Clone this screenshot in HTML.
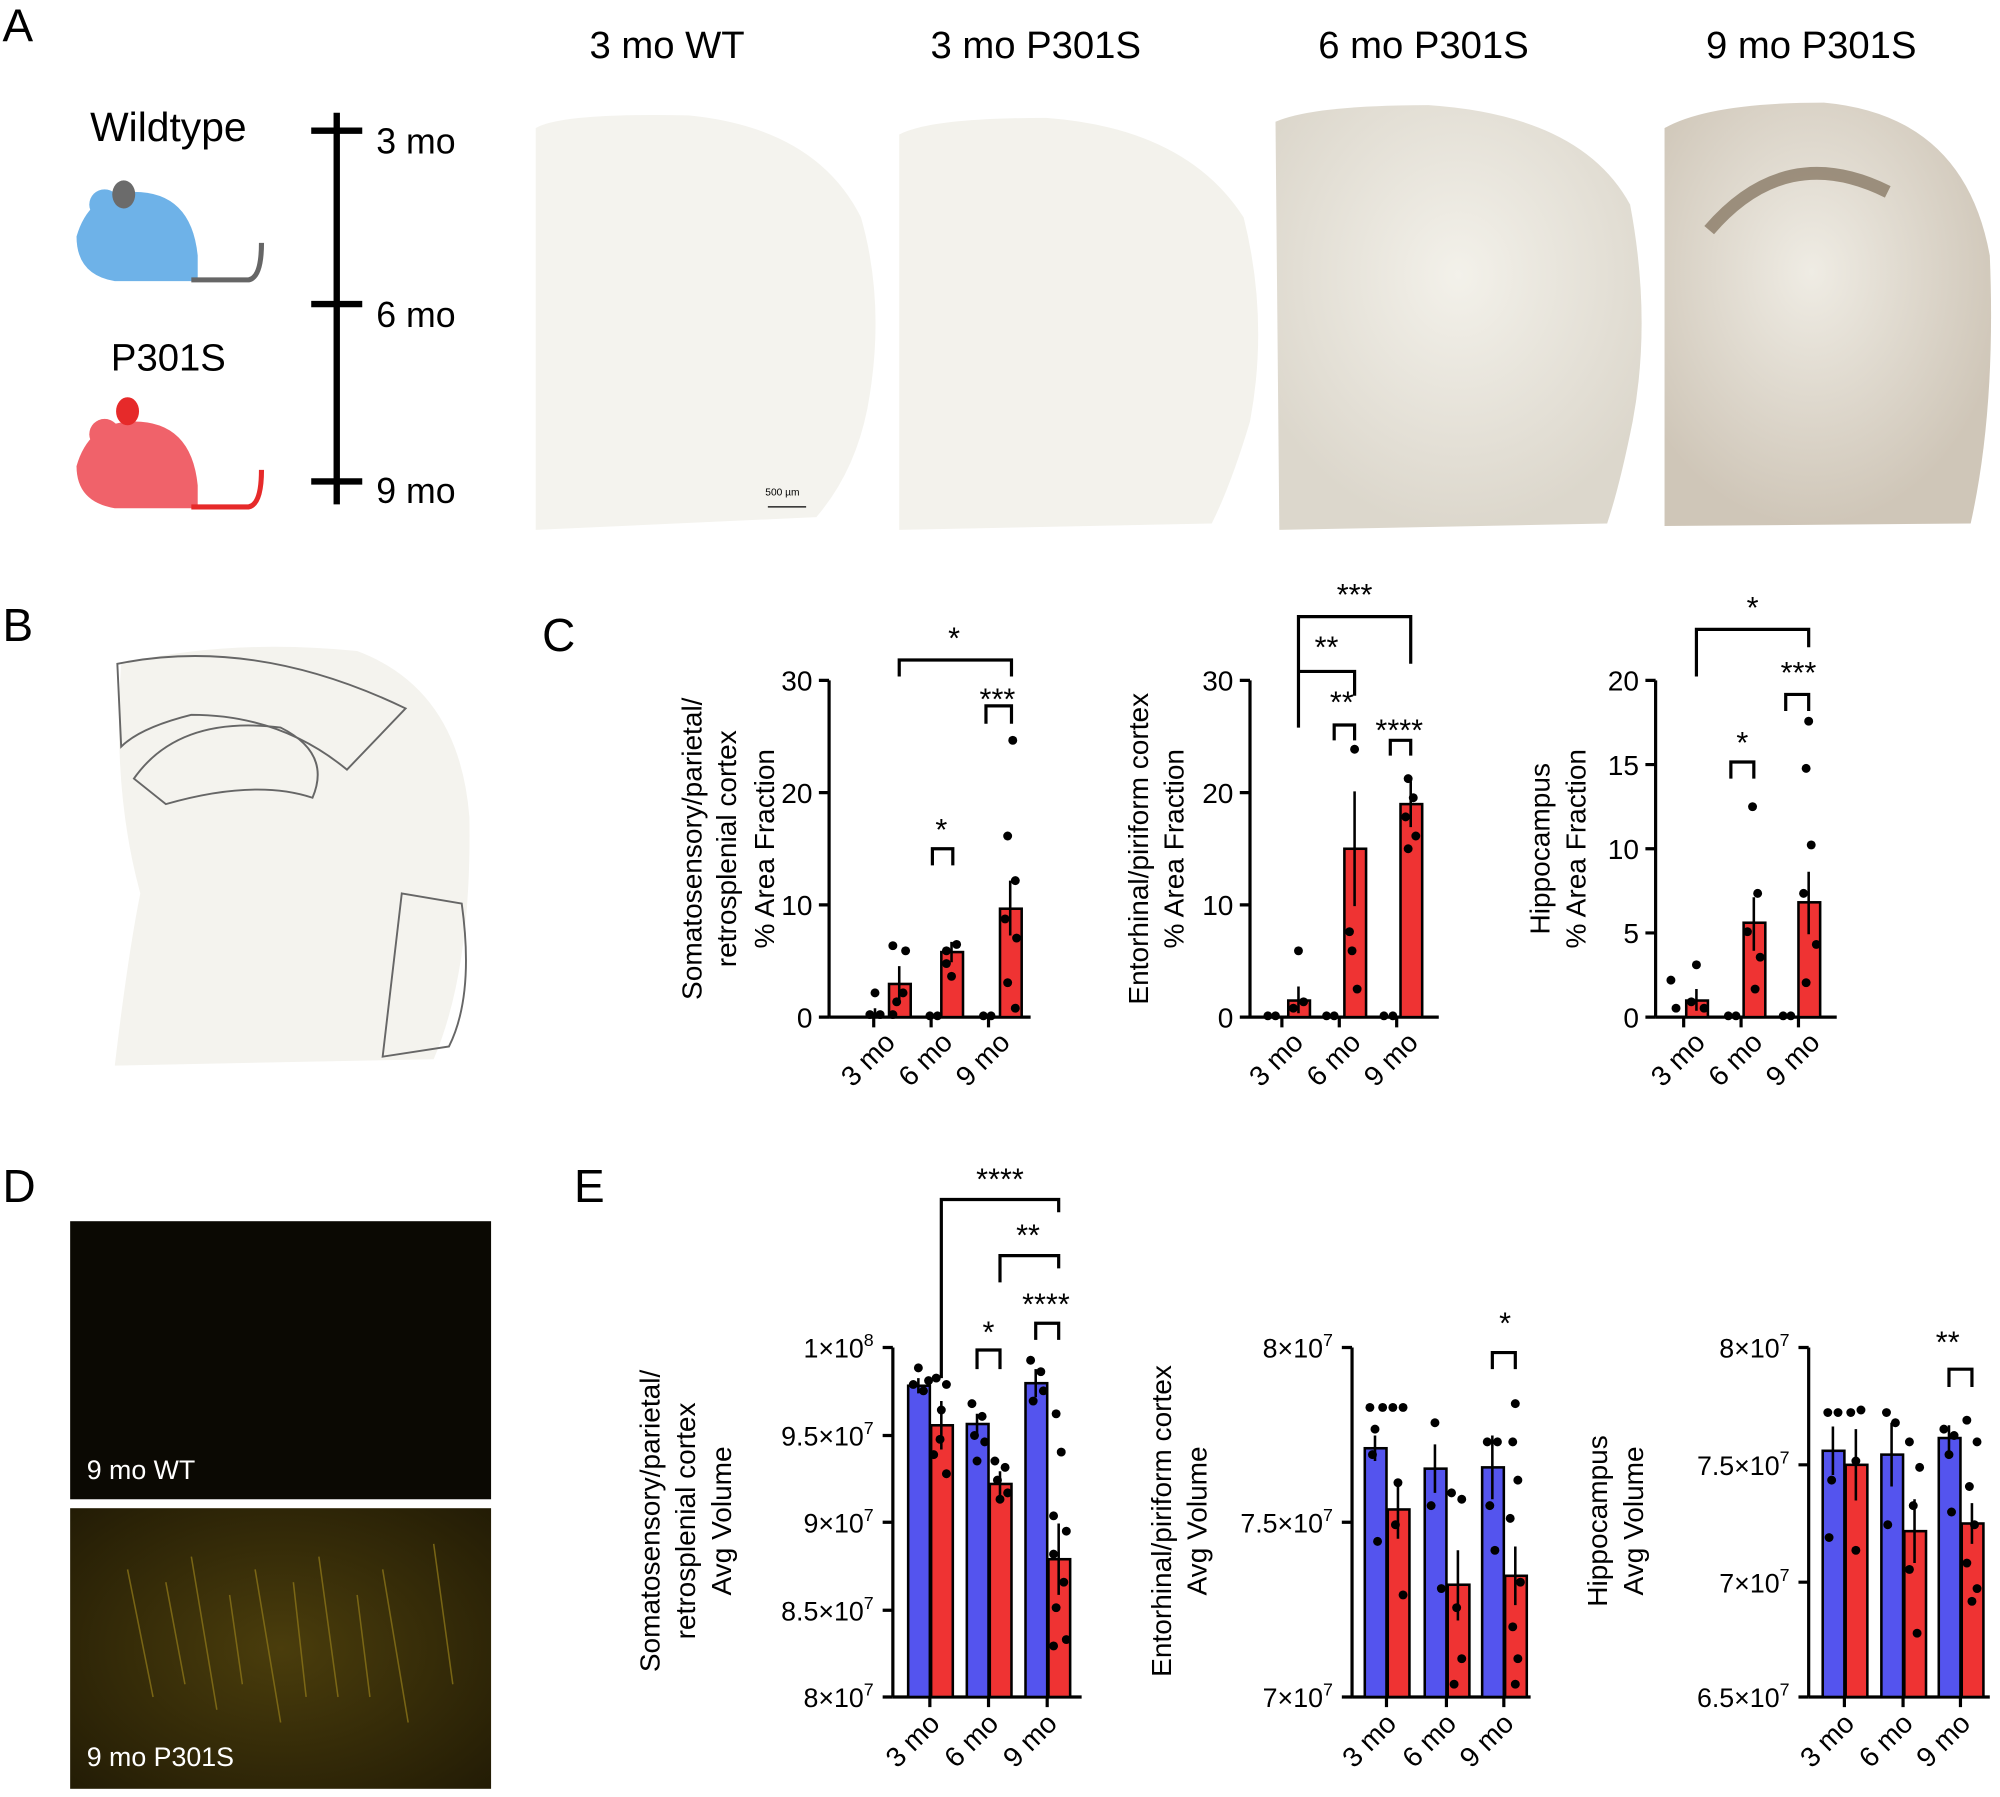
<!DOCTYPE html>
<html><head><meta charset="utf-8"><style>
html,body{margin:0;padding:0;background:#fff;width:2000px;height:1797px;overflow:hidden}
svg{display:block}
text{font-family:"Liberation Sans",Arial,sans-serif;fill:#000}
</style></head><body>
<svg width="2000" height="1797" viewBox="0 0 1568 1408" xmlns="http://www.w3.org/2000/svg">
<defs>
<radialGradient id="g6" cx="50%" cy="40%" r="60%"><stop offset="0" stop-color="#f3f1ea"/><stop offset="1" stop-color="#dcd7cc"/></radialGradient>
<radialGradient id="g9" cx="45%" cy="40%" r="60%"><stop offset="0" stop-color="#efece4"/><stop offset="1" stop-color="#cfc6b8"/></radialGradient>
<radialGradient id="fl" cx="50%" cy="50%" r="70%"><stop offset="0" stop-color="#4a3d0c"/><stop offset="1" stop-color="#231c05"/></radialGradient>
</defs>
<g font-size="36"><text x="2" y="32">A</text><text x="2" y="502">B</text><text x="425" y="510">C</text><text x="2" y="942">D</text><text x="450" y="942">E</text></g>
<!-- Panel A -->
<text x="132" y="110" font-size="32" text-anchor="middle">Wildtype</text>
<text x="132" y="290" font-size="30" text-anchor="middle">P301S</text>
<g fill="#6eb2e8"><path d="M60 185 Q70 150 105 150 Q150 150 155 200 L155 220 L90 220 Q60 215 60 185 Z"/><circle cx="82" cy="160" r="12"/></g>
<ellipse cx="97" cy="152" rx="9" ry="11" fill="#6b6b6b"/><path d="M150 219 L195 219 Q205 217 205 190" stroke="#666" stroke-width="4" fill="none"/>
<g fill="#f0626a"><path d="M60 365 Q70 330 105 330 Q150 330 155 380 L155 398 L90 398 Q60 393 60 365 Z"/><circle cx="82" cy="340" r="12"/></g>
<ellipse cx="100" cy="322" rx="9" ry="11" fill="#e62a2a"/><path d="M150 397 L195 397 Q205 395 205 368" stroke="#e62a2a" stroke-width="4" fill="none"/>
<g stroke="#000" stroke-width="5"><line x1="264" y1="88" x2="264" y2="395"/><line x1="244" y1="102" x2="284" y2="102"/><line x1="244" y1="238" x2="284" y2="238"/><line x1="244" y1="377" x2="284" y2="377"/></g>
<g font-size="28"><text x="295" y="120">3 mo</text><text x="295" y="256">6 mo</text><text x="295" y="394">9 mo</text></g>
<g font-size="30" text-anchor="middle"><text x="523" y="45">3 mo WT</text><text x="812" y="45">3 mo P301S</text><text x="1116" y="45">6 mo P301S</text><text x="1420" y="45">9 mo P301S</text></g>
<path d="M420 100 Q440 88 540 90 Q640 100 675 170 Q695 240 680 320 Q670 370 640 405 L420 415 Z" fill="#f4f3ee"/>
<path d="M705 105 Q730 92 820 92 Q930 100 975 170 Q995 250 980 330 Q965 380 950 410 L705 415 Z" fill="#f3f2ec"/>
<path d="M1000 95 Q1030 82 1120 82 Q1240 90 1278 160 Q1295 250 1280 330 Q1270 380 1260 410 L1003 415 Z" fill="url(#g6)"/>
<path d="M1305 100 Q1340 80 1430 80 Q1540 90 1560 200 Q1565 320 1545 410 L1305 412 Z" fill="url(#g9)"/>
<path d="M1340 180 Q1400 110 1480 150" stroke="#8a7a66" stroke-width="10" fill="none" opacity="0.8"/>
<text x="600" y="388" font-size="8">500 µm</text><line x1="602" y1="397" x2="632" y2="397" stroke="#000"/>
<!-- B -->
<path d="M95 520 Q180 500 280 510 Q360 540 368 640 Q370 760 340 830 L90 835 Q100 750 110 700 Q88 620 95 520 Z" fill="#f4f3ee"/>
<g stroke="#666" stroke-width="1.5" fill="none"><path d="M92 520 Q200 498 318 555 L272 603 Q220 560 150 560 Q110 570 95 585 Z"/><path d="M105 610 Q140 560 220 570 Q260 590 245 625 Q200 610 130 630 Z"/><path d="M315 700 L362 708 Q372 780 352 820 L300 828 Z"/></g>
<!-- C chart1 -->
<g stroke="#000" stroke-width="2.5" fill="none">
<line x1="650" y1="533" x2="650" y2="797"/><line x1="650" y1="797" x2="808" y2="797"/>
<path d="M642 533h8M642 621h8M642 709h8M642 797h8M685 797v8M730 797v8M775 797v8"/>
<line x1="980" y1="533" x2="980" y2="797"/><line x1="980" y1="797" x2="1128" y2="797"/>
<path d="M972 533h8M972 621h8M972 709h8M972 797h8M1005 797v8M1050 797v8M1095 797v8"/>
<line x1="1298" y1="533" x2="1298" y2="797"/><line x1="1298" y1="797" x2="1440" y2="797"/>
<path d="M1290 533h8M1290 599h8M1290 665h8M1290 731h8M1290 797h8M1320 797v8M1365 797v8M1410 797v8"/>
<path d="M705 530V517H793V530M731 678V665H747V678M773 567V553H793V567"/>
<path d="M1018 530V483H1106V520M1018 570V526H1062V545M1046 580V568H1062V580M1090 592V580H1106V592"/>
<path d="M1330 530V493H1418V507M1357 610V597H1375V610M1400 557V544H1418V557"/>
</g>
<g font-size="24" text-anchor="middle"><text x="748" y="508">*</text><text x="738" y="658">*</text><text x="782" y="556">***</text>
<text x="1062" y="474">***</text><text x="1040" y="515">**</text><text x="1052" y="558">**</text><text x="1097" y="580">****</text>
<text x="1374" y="484">*</text><text x="1366" y="590">*</text><text x="1410" y="535">***</text></g>
<g font-size="22" text-anchor="end"><text x="637" y="541">30</text><text x="637" y="629">20</text><text x="637" y="717">10</text><text x="637" y="805">0</text>
<text x="967" y="541">30</text><text x="967" y="629">20</text><text x="967" y="717">10</text><text x="967" y="805">0</text>
<text x="1285" y="541">20</text><text x="1285" y="607">15</text><text x="1285" y="673">10</text><text x="1285" y="739">5</text><text x="1285" y="805">0</text></g>
<g font-size="22" text-anchor="end">
<text transform="translate(703,818) rotate(-45)">3 mo</text><text transform="translate(748,818) rotate(-45)">6 mo</text><text transform="translate(793,818) rotate(-45)">9 mo</text>
<text transform="translate(1023,818) rotate(-45)">3 mo</text><text transform="translate(1068,818) rotate(-45)">6 mo</text><text transform="translate(1113,818) rotate(-45)">9 mo</text>
<text transform="translate(1338,818) rotate(-45)">3 mo</text><text transform="translate(1383,818) rotate(-45)">6 mo</text><text transform="translate(1428,818) rotate(-45)">9 mo</text></g>
<g font-size="22" text-anchor="middle">
<text transform="translate(550,665) rotate(-90)">Somatosensory/parietal/</text><text transform="translate(577,665) rotate(-90)">retrosplenial cortex</text><text transform="translate(607,665) rotate(-90)">% Area Fraction</text>
<text transform="translate(900,665) rotate(-90)">Entorhinal/piriform cortex</text><text transform="translate(928,665) rotate(-90)">% Area Fraction</text>
<text transform="translate(1215,665) rotate(-90)">Hippocampus</text><text transform="translate(1243,665) rotate(-90)">% Area Fraction</text></g>
<g fill="#ef3333" stroke="#000" stroke-width="2">
<rect x="697" y="771" width="17" height="26"/><rect x="738" y="746" width="17" height="51"/><rect x="784" y="712" width="17" height="85"/>
<rect x="1010" y="784" width="17" height="13"/><rect x="1054" y="665" width="17" height="132"/><rect x="1098" y="630" width="17" height="167"/>
<rect x="1322" y="784" width="17" height="13"/><rect x="1367" y="723" width="17" height="74"/><rect x="1410" y="707" width="17" height="90"/></g>
<g stroke="#000" stroke-width="2" fill="none">
<path d="M705 757V785M746 738V754M792 690V733M1018 773V794M1062 620V710M1106 612V648M1330 775V792M1375 703V745M1418 683V732M686 790V797"/>
</g>
<g fill="#000">
<circle cx="686" cy="778" r="3.5"/><circle cx="682" cy="795" r="3.5"/><circle cx="690" cy="795" r="3.5"/>
<circle cx="700" cy="741" r="3.5"/><circle cx="710" cy="745" r="3.5"/><circle cx="703" cy="785" r="3.5"/><circle cx="708" cy="778" r="3.5"/><circle cx="700" cy="795" r="3.5"/>
<circle cx="729" cy="796" r="3.5"/><circle cx="735" cy="796" r="3.5"/><circle cx="742" cy="745" r="3.5"/><circle cx="750" cy="740" r="3.5"/><circle cx="746" cy="765" r="3.5"/><circle cx="742" cy="755" r="3.5"/>
<circle cx="771" cy="796" r="3.5"/><circle cx="777" cy="796" r="3.5"/><circle cx="794" cy="580" r="3.5"/><circle cx="790" cy="655" r="3.5"/><circle cx="796" cy="690" r="3.5"/><circle cx="788" cy="720" r="3.5"/><circle cx="797" cy="735" r="3.5"/><circle cx="790" cy="770" r="3.5"/><circle cx="796" cy="790" r="3.5"/>
<circle cx="994" cy="796" r="3.5"/><circle cx="1000" cy="796" r="3.5"/><circle cx="1018" cy="745" r="3.5"/><circle cx="1014" cy="790" r="3.5"/><circle cx="1022" cy="785" r="3.5"/>
<circle cx="1040" cy="796" r="3.5"/><circle cx="1046" cy="796" r="3.5"/><circle cx="1062" cy="587" r="3.5"/><circle cx="1060" cy="745" r="3.5"/><circle cx="1064" cy="775" r="3.5"/><circle cx="1058" cy="730" r="3.5"/>
<circle cx="1085" cy="796" r="3.5"/><circle cx="1092" cy="796" r="3.5"/><circle cx="1104" cy="610" r="3.5"/><circle cx="1108" cy="625" r="3.5"/><circle cx="1102" cy="640" r="3.5"/><circle cx="1110" cy="655" r="3.5"/><circle cx="1104" cy="665" r="3.5"/>
<circle cx="1310" cy="768" r="3.5"/><circle cx="1314" cy="790" r="3.5"/><circle cx="1330" cy="756" r="3.5"/><circle cx="1326" cy="785" r="3.5"/><circle cx="1336" cy="790" r="3.5"/>
<circle cx="1355" cy="796" r="3.5"/><circle cx="1361" cy="796" r="3.5"/><circle cx="1374" cy="632" r="3.5"/><circle cx="1378" cy="700" r="3.5"/><circle cx="1370" cy="730" r="3.5"/><circle cx="1380" cy="750" r="3.5"/><circle cx="1376" cy="775" r="3.5"/>
<circle cx="1398" cy="796" r="3.5"/><circle cx="1404" cy="796" r="3.5"/><circle cx="1418" cy="565" r="3.5"/><circle cx="1416" cy="602" r="3.5"/><circle cx="1420" cy="662" r="3.5"/><circle cx="1414" cy="700" r="3.5"/><circle cx="1424" cy="740" r="3.5"/><circle cx="1416" cy="770" r="3.5"/></g>
<!-- D -->
<rect x="55" y="957" width="330" height="218" fill="#0b0903"/>
<rect x="55" y="1182" width="330" height="220" fill="url(#fl)"/>
<g stroke="#8a7418" stroke-width="1.2" opacity="0.8"><path d="M100 1230 L120 1330M130 1240 L145 1320M150 1220 L170 1340M180 1250 L190 1320M200 1230 L220 1350M230 1240 L240 1330M250 1220 L265 1330M280 1250 L290 1330M300 1230 L320 1350M340 1210 L355 1320"/></g>
<text x="68" y="1159" font-size="21" style="fill:#fff">9 mo WT</text>
<text x="68" y="1384" font-size="21" style="fill:#fff">9 mo P301S</text>
<!-- E -->
<g stroke="#000" stroke-width="2.5" fill="none">
<line x1="700" y1="1056" x2="700" y2="1330"/><line x1="700" y1="1330" x2="848" y2="1330"/>
<path d="M692 1056h8M692 1125h8M692 1193h8M692 1262h8M692 1330h8M729 1330v8M775 1330v8M821 1330v8"/>
<line x1="1060" y1="1056" x2="1060" y2="1330"/><line x1="1060" y1="1330" x2="1200" y2="1330"/>
<path d="M1052 1056h8M1052 1193h8M1052 1330h8M1087 1330v8M1134 1330v8M1179 1330v8"/>
<line x1="1418" y1="1056" x2="1418" y2="1330"/><line x1="1418" y1="1330" x2="1560" y2="1330"/>
<path d="M1410 1056h8M1410 1148h8M1410 1240h8M1410 1330h8M1446 1330v8M1492 1330v8M1537 1330v8"/>
<path d="M738 1080V940H830V950M784 1005V984H830V994M766 1073V1058H784V1073M812 1050V1037H830V1050"/>
<path d="M1170 1073V1060H1188V1073M1528 1087V1073H1546V1087"/>
</g>
<g font-size="24" text-anchor="middle"><text x="784" y="932">****</text><text x="806" y="976">**</text><text x="775" y="1052">*</text><text x="820" y="1030">****</text><text x="1180" y="1045">*</text><text x="1527" y="1060">**</text></g>
<g font-size="21" text-anchor="end">
<text x="685" y="1064">1×10<tspan font-size="14" dy="-9">8</tspan></text>
<text x="685" y="1133">9.5×10<tspan font-size="14" dy="-9">7</tspan></text>
<text x="685" y="1201">9×10<tspan font-size="14" dy="-9">7</tspan></text>
<text x="685" y="1270">8.5×10<tspan font-size="14" dy="-9">7</tspan></text>
<text x="685" y="1338">8×10<tspan font-size="14" dy="-9">7</tspan></text>
<text x="1045" y="1064">8×10<tspan font-size="14" dy="-9">7</tspan></text>
<text x="1045" y="1201">7.5×10<tspan font-size="14" dy="-9">7</tspan></text>
<text x="1045" y="1338">7×10<tspan font-size="14" dy="-9">7</tspan></text>
<text x="1403" y="1064">8×10<tspan font-size="14" dy="-9">7</tspan></text>
<text x="1403" y="1156">7.5×10<tspan font-size="14" dy="-9">7</tspan></text>
<text x="1403" y="1248">7×10<tspan font-size="14" dy="-9">7</tspan></text>
<text x="1403" y="1338">6.5×10<tspan font-size="14" dy="-9">7</tspan></text></g>
<g font-size="22" text-anchor="end">
<text transform="translate(738,1352) rotate(-45)">3 mo</text><text transform="translate(784,1352) rotate(-45)">6 mo</text><text transform="translate(830,1352) rotate(-45)">9 mo</text>
<text transform="translate(1096,1352) rotate(-45)">3 mo</text><text transform="translate(1143,1352) rotate(-45)">6 mo</text><text transform="translate(1188,1352) rotate(-45)">9 mo</text>
<text transform="translate(1455,1352) rotate(-45)">3 mo</text><text transform="translate(1501,1352) rotate(-45)">6 mo</text><text transform="translate(1546,1352) rotate(-45)">9 mo</text></g>
<g font-size="22" text-anchor="middle">
<text transform="translate(517,1192) rotate(-90)">Somatosensory/parietal/</text><text transform="translate(545,1192) rotate(-90)">retrosplenial cortex</text><text transform="translate(573,1192) rotate(-90)">Avg Volume</text>
<text transform="translate(918,1192) rotate(-90)">Entorhinal/piriform cortex</text><text transform="translate(946,1192) rotate(-90)">Avg Volume</text>
<text transform="translate(1260,1192) rotate(-90)">Hippocampus</text><text transform="translate(1288,1192) rotate(-90)">Avg Volume</text></g>
<g stroke="#000" stroke-width="2">
<g fill="#5454ee"><rect x="712" y="1086" width="17" height="244"/><rect x="758" y="1116" width="17" height="214"/><rect x="804" y="1084" width="17" height="246"/>
<rect x="1070" y="1135" width="17" height="195"/><rect x="1117" y="1151" width="17" height="179"/><rect x="1162" y="1150" width="17" height="180"/>
<rect x="1429" y="1137" width="17" height="193"/><rect x="1475" y="1140" width="17" height="190"/><rect x="1520" y="1127" width="17" height="203"/></g>
<g fill="#ef3333"><rect x="730" y="1117" width="17" height="213"/><rect x="776" y="1163" width="17" height="167"/><rect x="822" y="1222" width="17" height="108"/>
<rect x="1088" y="1183" width="17" height="147"/><rect x="1135" y="1242" width="17" height="88"/><rect x="1180" y="1235" width="17" height="95"/>
<rect x="1447" y="1148" width="17" height="182"/><rect x="1493" y="1200" width="17" height="130"/><rect x="1538" y="1194" width="17" height="136"/></g>
<path fill="none" d="M720 1080V1092M738 1098V1136M766 1108V1124M784 1153V1173M812 1073V1095M830 1194V1250M1078 1125V1145M1096 1160V1206M1125 1132V1170M1143 1215V1270M1170 1125V1175M1188 1212V1258M1437 1118V1156M1455 1120V1176M1483 1115V1165M1501 1175V1225M1528 1117V1137M1546 1178V1210"/>
</g>
<g fill="#000">
<circle cx="720" cy="1072" r="3.5"/><circle cx="716" cy="1085" r="3.5"/><circle cx="724" cy="1090" r="3.5"/><circle cx="728" cy="1082" r="3.5"/>
<circle cx="734" cy="1080" r="3.5"/><circle cx="742" cy="1085" r="3.5"/><circle cx="738" cy="1105" r="3.5"/><circle cx="732" cy="1140" r="3.5"/><circle cx="742" cy="1155" r="3.5"/><circle cx="737" cy="1128" r="3.5"/>
<circle cx="762" cy="1100" r="3.5"/><circle cx="770" cy="1110" r="3.5"/><circle cx="764" cy="1125" r="3.5"/><circle cx="772" cy="1130" r="3.5"/><circle cx="766" cy="1145" r="3.5"/>
<circle cx="780" cy="1145" r="3.5"/><circle cx="788" cy="1150" r="3.5"/><circle cx="782" cy="1160" r="3.5"/><circle cx="790" cy="1170" r="3.5"/><circle cx="784" cy="1175" r="3.5"/>
<circle cx="808" cy="1066" r="3.5"/><circle cx="816" cy="1075" r="3.5"/><circle cx="810" cy="1098" r="3.5"/><circle cx="818" cy="1090" r="3.5"/>
<circle cx="828" cy="1108" r="3.5"/><circle cx="832" cy="1138" r="3.5"/><circle cx="826" cy="1188" r="3.5"/><circle cx="836" cy="1200" r="3.5"/><circle cx="826" cy="1218" r="3.5"/><circle cx="834" cy="1240" r="3.5"/><circle cx="828" cy="1260" r="3.5"/><circle cx="836" cy="1285" r="3.5"/><circle cx="826" cy="1290" r="3.5"/>
<circle cx="1074" cy="1103" r="3.5"/><circle cx="1084" cy="1103" r="3.5"/><circle cx="1078" cy="1120" r="3.5"/><circle cx="1076" cy="1140" r="3.5"/><circle cx="1080" cy="1208" r="3.5"/>
<circle cx="1092" cy="1103" r="3.5"/><circle cx="1100" cy="1103" r="3.5"/><circle cx="1096" cy="1162" r="3.5"/><circle cx="1094" cy="1195" r="3.5"/><circle cx="1100" cy="1250" r="3.5"/>
<circle cx="1125" cy="1115" r="3.5"/><circle cx="1122" cy="1180" r="3.5"/><circle cx="1130" cy="1245" r="3.5"/>
<circle cx="1138" cy="1170" r="3.5"/><circle cx="1146" cy="1175" r="3.5"/><circle cx="1142" cy="1260" r="3.5"/><circle cx="1146" cy="1300" r="3.5"/><circle cx="1140" cy="1320" r="3.5"/>
<circle cx="1166" cy="1130" r="3.5"/><circle cx="1174" cy="1130" r="3.5"/><circle cx="1168" cy="1180" r="3.5"/><circle cx="1172" cy="1215" r="3.5"/>
<circle cx="1188" cy="1100" r="3.5"/><circle cx="1186" cy="1130" r="3.5"/><circle cx="1190" cy="1160" r="3.5"/><circle cx="1184" cy="1190" r="3.5"/><circle cx="1192" cy="1240" r="3.5"/><circle cx="1186" cy="1275" r="3.5"/><circle cx="1190" cy="1300" r="3.5"/><circle cx="1188" cy="1320" r="3.5"/>
<circle cx="1433" cy="1107" r="3.5"/><circle cx="1441" cy="1107" r="3.5"/><circle cx="1436" cy="1160" r="3.5"/><circle cx="1434" cy="1205" r="3.5"/>
<circle cx="1451" cy="1107" r="3.5"/><circle cx="1459" cy="1105" r="3.5"/><circle cx="1455" cy="1145" r="3.5"/><circle cx="1455" cy="1215" r="3.5"/>
<circle cx="1479" cy="1107" r="3.5"/><circle cx="1486" cy="1115" r="3.5"/><circle cx="1480" cy="1195" r="3.5"/>
<circle cx="1497" cy="1130" r="3.5"/><circle cx="1505" cy="1150" r="3.5"/><circle cx="1500" cy="1180" r="3.5"/><circle cx="1497" cy="1230" r="3.5"/><circle cx="1503" cy="1280" r="3.5"/>
<circle cx="1524" cy="1120" r="3.5"/><circle cx="1532" cy="1125" r="3.5"/><circle cx="1528" cy="1140" r="3.5"/><circle cx="1530" cy="1185" r="3.5"/>
<circle cx="1542" cy="1113" r="3.5"/><circle cx="1550" cy="1130" r="3.5"/><circle cx="1544" cy="1165" r="3.5"/><circle cx="1548" cy="1195" r="3.5"/><circle cx="1542" cy="1225" r="3.5"/><circle cx="1550" cy="1245" r="3.5"/><circle cx="1546" cy="1255" r="3.5"/></g>
</svg>
</body></html>
